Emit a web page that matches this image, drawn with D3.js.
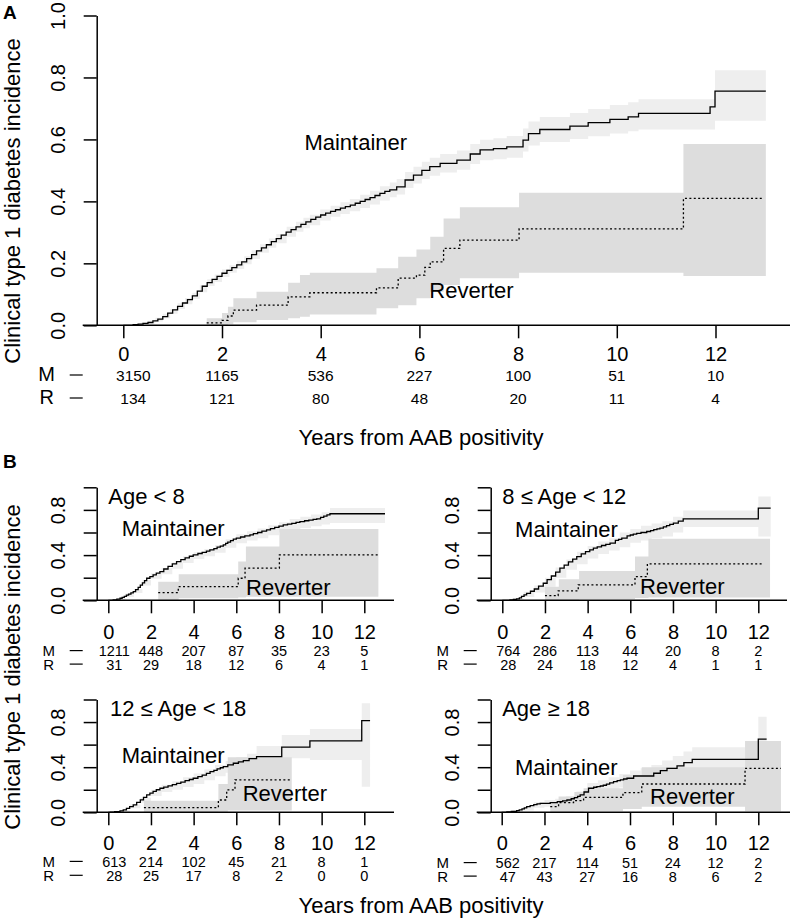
<!DOCTYPE html>
<html><head><meta charset="utf-8">
<script src="https://cdn.jsdelivr.net/npm/d3@7"></script>
<style>
body{margin:0;background:#fff;}
svg text{font-family:"Liberation Sans", Arial, Helvetica, sans-serif; fill:#000;}
</style></head><body>
<svg id="chart" width="793" height="919"></svg>
<script>
// ---------------- DATA ----------------
const xTicks = [0, 2, 4, 6, 8, 10, 12];
const yTicksA = [0, 0.2, 0.4, 0.6, 0.8, 1.0];
const yLabelsA = [0, 0.2, 0.4, 0.6, 0.8, 1.0];
const yTicksB = [0, 0.2, 0.4, 0.6, 0.8, 1.0];
const yLabelsB = [0, 0.4, 0.8];
const riskTimes = [0, 2, 4, 6, 8, 10, 12];
const groupLabels = ["M", "R"];

// Panel A (all ages)
const aMaintTime = [0,0.2,0.3,0.4,0.5,0.6,0.7,0.8,0.9,1.0,1.1,1.2,1.3,1.4,1.5,1.6,1.7,1.8,1.9,2.0,2.1,2.2,2.3,2.4,2.5,2.6,2.7,2.8,2.9,3.0,3.1,3.2,3.3,3.4,3.5,3.6,3.7,3.8,3.9,4.0,4.1,4.2,4.3,4.4,4.5,4.6,4.7,4.8,4.9,5.0,5.1,5.2,5.3,5.4,5.54,5.71,5.88,6.05,6.21,6.42,6.76,7.03,7.23,7.5,7.77,8.1,8.21,8.44,9.05,9.42,9.86,10.23,10.44,11.89,11.99,13.02];
const aMaintValue = [0,0.002,0.004,0.006,0.009,0.014,0.02,0.028,0.039,0.05,0.061,0.072,0.083,0.095,0.11,0.126,0.138,0.148,0.158,0.168,0.177,0.186,0.195,0.205,0.215,0.228,0.24,0.25,0.26,0.27,0.28,0.291,0.301,0.309,0.318,0.326,0.334,0.342,0.349,0.356,0.362,0.368,0.373,0.378,0.383,0.388,0.394,0.4,0.406,0.412,0.419,0.426,0.432,0.437,0.447,0.469,0.485,0.5,0.512,0.523,0.533,0.553,0.566,0.57,0.576,0.598,0.619,0.632,0.643,0.654,0.665,0.673,0.684,0.705,0.756,0.756];
const aMaintBandTime = [0,0.2,0.35,0.5,0.65,0.8,0.95,1.1,1.25,1.4,1.55,1.7,1.85,2.0,2.15,2.3,2.45,2.6,2.77,2.95,3.1,3.31,3.5,3.65,3.78,3.99,4.2,4.4,4.59,4.8,5.0,5.2,5.4,5.54,5.71,5.88,6.05,6.21,6.42,6.76,7.03,7.23,7.5,7.77,8.1,8.21,8.44,9.05,9.42,9.86,10.23,10.44,11.89,11.99,13.02];
const aMaintLower = [0,0,0.002,0.006,0.012,0.023,0.037,0.053,0.068,0.085,0.107,0.127,0.14,0.156,0.17,0.182,0.197,0.214,0.234,0.25,0.265,0.286,0.302,0.313,0.323,0.338,0.35,0.359,0.368,0.379,0.39,0.403,0.413,0.422,0.443,0.458,0.472,0.483,0.493,0.502,0.521,0.533,0.536,0.541,0.561,0.58,0.592,0.601,0.61,0.619,0.626,0.632,0.632,0.66,0.66];
const aMaintUpper = [0,0.004,0.008,0.015,0.024,0.037,0.053,0.071,0.088,0.105,0.129,0.149,0.164,0.18,0.194,0.208,0.223,0.242,0.262,0.28,0.295,0.318,0.334,0.347,0.357,0.374,0.386,0.397,0.408,0.421,0.434,0.449,0.461,0.472,0.495,0.512,0.528,0.541,0.553,0.564,0.585,0.599,0.604,0.611,0.635,0.658,0.672,0.685,0.698,0.711,0.72,0.73,0.73,0.823,0.823];
const aRevTime = [1.69,2.0,2.12,2.23,2.7,3.34,3.78,5.13,5.57,5.94,6.11,6.22,6.49,6.82,8.02,11.35,12.97];
const aRevValue = [0.008,0.016,0.03,0.049,0.065,0.092,0.105,0.121,0.152,0.162,0.187,0.205,0.248,0.275,0.311,0.41,0.41];
const aRevBandTime = [1.69,2.0,2.12,2.23,2.7,3.34,3.58,3.78,5.13,5.57,5.94,6.22,6.49,6.82,8.02,11.35,13.02];
const aRevLower = [0,0,0.003,0.01,0.017,0.023,0.028,0.035,0.055,0.065,0.087,0.108,0.13,0.152,0.17,0.159,0.159];
const aRevUpper = [0.023,0.04,0.06,0.087,0.108,0.137,0.162,0.17,0.184,0.221,0.245,0.286,0.345,0.381,0.428,0.585,0.585];
const aRiskM = [3150,1165,536,227,100,51,10];
const aRiskR = [134,121,80,48,20,11,4];

// Panel B1: Age < 8
const b1MaintTime = [0,0.23,0.4,0.55,0.65,0.75,0.85,0.95,1.06,1.17,1.28,1.4,1.5,1.6,1.7,1.8,1.95,2.1,2.25,2.42,2.6,2.8,3.0,3.2,3.4,3.6,3.8,3.98,4.2,4.4,4.6,4.76,4.95,5.1,5.25,5.39,5.5,5.6,5.73,5.86,6.0,6.2,6.4,6.64,6.8,7.0,7.2,7.42,7.6,7.8,8.0,8.2,8.4,8.6,8.8,8.98,9.2,9.4,9.6,9.77,9.95,10.1,10.25,10.39,12.97];
const b1MaintValue = [0,0.003,0.01,0.018,0.026,0.035,0.045,0.055,0.065,0.076,0.095,0.115,0.135,0.155,0.175,0.195,0.21,0.225,0.24,0.254,0.277,0.3,0.322,0.343,0.36,0.375,0.39,0.402,0.414,0.425,0.436,0.446,0.458,0.47,0.48,0.49,0.503,0.515,0.528,0.541,0.55,0.56,0.57,0.579,0.59,0.6,0.612,0.624,0.634,0.645,0.656,0.668,0.674,0.68,0.689,0.697,0.704,0.71,0.716,0.721,0.733,0.745,0.756,0.766,0.766];
const b1MaintBandTime = [0,0.4,0.8,1.2,1.6,2.0,2.5,3.0,3.5,4.0,4.5,5.0,5.5,6.0,6.5,7.0,7.5,8.0,8.5,9.0,9.5,10.0,10.39,12.97];
const b1MaintLower = [0,0.003,0.03,0.065,0.13,0.19,0.23,0.28,0.33,0.365,0.39,0.42,0.465,0.505,0.53,0.55,0.575,0.6,0.625,0.64,0.655,0.67,0.683,0.683];
const b1MaintUpper = [0,0.02,0.06,0.1,0.18,0.24,0.285,0.335,0.39,0.425,0.455,0.49,0.54,0.585,0.61,0.635,0.665,0.69,0.72,0.74,0.76,0.78,0.816,0.816];
const b1RevTime = [2.34,3.28,6.09,6.41,8.02,12.66];
const b1RevValue = [0.068,0.121,0.195,0.284,0.402,0.402];
const b1RevBandTime = [2.34,3.3,6.09,6.45,8.02,12.66];
const b1RevLower = [0.005,0.018,0.025,0.032,0.032,0.032];
const b1RevUpper = [0.165,0.231,0.343,0.476,0.63,0.63];
const b1RiskM = [1211,448,207,87,35,23,5];
const b1RiskR = [31,29,18,12,6,4,1];

// Panel B2: 8 <= Age < 12
const b2MaintTime = [0,0.36,0.52,0.67,0.8,0.9,1.02,1.14,1.32,1.5,1.7,1.92,2.1,2.3,2.5,2.7,2.9,3.1,3.3,3.49,3.7,3.9,4.1,4.27,4.45,4.65,4.85,5.05,5.3,5.45,5.6,5.85,6.0,6.14,6.3,6.5,6.77,6.95,7.1,7.25,7.39,7.55,7.7,7.85,8.02,8.25,8.48,12.0,12.58];
const b2MaintValue = [0,0.003,0.007,0.012,0.022,0.035,0.048,0.062,0.08,0.1,0.125,0.151,0.183,0.215,0.25,0.284,0.312,0.34,0.364,0.387,0.41,0.43,0.447,0.461,0.473,0.485,0.495,0.506,0.53,0.54,0.55,0.57,0.578,0.586,0.593,0.6,0.609,0.617,0.625,0.632,0.639,0.65,0.66,0.672,0.683,0.7,0.721,0.816,0.816];
const b2MaintBandTime = [0,0.5,1,1.5,2,2.5,3,3.5,4,4.5,5,5.5,6,6.5,7,7.5,8,8.48,12,12.58];
const b2MaintLower = [0,0.002,0.03,0.07,0.12,0.2,0.27,0.32,0.37,0.41,0.44,0.47,0.51,0.53,0.55,0.565,0.6,0.648,0.564,0.564];
const b2MaintUpper = [0,0.015,0.075,0.13,0.2,0.29,0.36,0.43,0.48,0.52,0.55,0.6,0.63,0.66,0.68,0.7,0.74,0.795,0.919,0.919];
const b2RevTime = [2.0,2.62,3.56,6.22,6.8,12.23];
const b2RevValue = [0.041,0.083,0.136,0.21,0.322,0.322];
const b2RevBandTime = [2.0,2.65,3.6,6.22,6.85,12.55];
const b2RevLower = [0,0.005,0.01,0.02,0.025,0.025];
const b2RevUpper = [0.121,0.186,0.26,0.387,0.544,0.544];
const b2RiskM = [764,286,113,44,20,8,2];
const b2RiskR = [28,24,18,12,4,1,1];

// Panel B3: 12 <= Age < 18
const b3MaintTime = [0,0.1,0.3,0.55,0.7,0.85,1.0,1.17,1.33,1.5,1.65,1.8,1.95,2.1,2.25,2.42,2.6,2.8,3.0,3.2,3.4,3.6,3.8,3.98,4.2,4.4,4.6,4.77,4.95,5.1,5.25,5.39,5.6,5.86,6.1,6.33,6.6,6.95,8.13,9.45,11.88,12.27];
const b3MaintValue = [0,0.002,0.006,0.012,0.022,0.035,0.05,0.065,0.088,0.11,0.132,0.154,0.17,0.185,0.2,0.213,0.224,0.235,0.246,0.257,0.268,0.28,0.291,0.302,0.316,0.33,0.345,0.36,0.372,0.385,0.395,0.405,0.42,0.435,0.447,0.458,0.475,0.493,0.577,0.633,0.813,0.813];
const b3MaintBandTime = [0,0.5,1,1.5,2,2.5,3,3.5,4,4.5,5,5.5,6,6.5,6.95,8.13,9.45,11.88,12.27];
const b3MaintLower = [0,0.003,0.035,0.085,0.145,0.18,0.2,0.225,0.25,0.285,0.32,0.35,0.375,0.395,0.39,0.479,0.464,0.227,0.227];
const b3MaintUpper = [0,0.02,0.07,0.13,0.2,0.245,0.275,0.31,0.345,0.38,0.42,0.455,0.49,0.52,0.588,0.686,0.739,0.967,0.967];
const b3RevTime = [1.67,5.16,5.55,5.94,8.6];
const b3RevValue = [0.041,0.109,0.198,0.287,0.287];
const b3RevBandTime = [1.67,5.16,5.6,8.6];
const b3RevLower = [0,0.005,0.015,0.015];
const b3RevUpper = [0.103,0.251,0.488,0.488];
const b3RiskM = [613,214,102,45,21,8,1];
const b3RiskR = [28,25,17,8,2,0,0];

// Panel B4: Age >= 18
const b4MaintTime = [0,0.24,0.45,0.7,0.82,0.95,1.06,1.17,1.33,1.5,1.65,1.8,2.27,2.6,2.85,3.05,3.25,3.4,3.55,3.67,3.85,4.06,4.3,4.45,4.61,4.75,4.9,5.05,5.23,5.4,5.55,5.7,5.86,6.17,7.11,7.42,7.73,8.2,8.52,8.91,12.0,12.39];
const b4MaintValue = [0,0.003,0.008,0.015,0.022,0.03,0.04,0.05,0.06,0.068,0.074,0.08,0.085,0.095,0.102,0.109,0.12,0.13,0.142,0.154,0.18,0.213,0.222,0.228,0.233,0.24,0.25,0.26,0.272,0.28,0.288,0.295,0.302,0.322,0.346,0.369,0.39,0.411,0.44,0.47,0.648,0.648];
const b4MaintBandTime = [0,0.5,1,1.5,2,2.5,3,3.5,4,4.5,5,5.5,6,6.5,7,7.5,8,8.5,8.91,12,12.39];
const b4MaintLower = [0,0.002,0.015,0.04,0.05,0.055,0.07,0.09,0.15,0.175,0.2,0.22,0.235,0.26,0.27,0.29,0.31,0.33,0.36,0.464,0.464];
const b4MaintUpper = [0,0.02,0.05,0.09,0.11,0.12,0.145,0.185,0.26,0.285,0.31,0.34,0.37,0.39,0.42,0.46,0.5,0.54,0.577,0.848,0.848];
const b4RevTime = [2.27,2.66,3.36,3.83,5.67,6.55,11.38,13.06];
const b4RevValue = [0.05,0.085,0.103,0.133,0.174,0.251,0.39,0.39];
const b4RevBandTime = [2.27,2.66,3.4,3.83,5.67,6.55,11.38,13.06];
const b4RevLower = [0,0.003,0.005,0.01,0.03,0.05,0.01,0.01];
const b4RevUpper = [0.094,0.139,0.18,0.213,0.331,0.399,0.633,0.633];
const b4RiskM = [562,217,114,51,24,12,2];
const b4RiskR = [47,43,27,16,8,6,2];

// ---------------- DRAWING ----------------
const svg = d3.select("#chart");
const FONT = '"Liberation Sans", Arial, Helvetica, sans-serif';
const LIGHT = "#eeeeee", DARK = "#dddddd";

function pts(t, v) { return t.map((d, i) => ({t: d, v: v[i]})); }
function band(t, lo, hi) { return t.map((d, i) => ({t: d, lo: lo[i], hi: hi[i]})); }

function drawPanel(c) {
  const g = svg.append("g");
  const x = d3.scaleLinear().domain([0, 12]).range([c.x0, c.x12]);
  const y = d3.scaleLinear().domain([0, 1]).range([c.y0, c.y1]);
  const area = d3.area().curve(d3.curveStepAfter)
    .x(d => x(d.t)).y0(d => y(d.lo)).y1(d => y(d.hi));
  const line = d3.line().curve(d3.curveStepAfter).x(d => x(d.t)).y(d => y(d.v));

  g.append("path").attr("d", area(band(c.mBandT, c.mLo, c.mHi))).attr("fill", LIGHT);
  g.append("path").attr("d", area(band(c.rBandT, c.rLo, c.rHi))).attr("fill", DARK);
  g.append("path").attr("d", line(pts(c.mT, c.mV))).attr("fill", "none")
    .attr("stroke", "#000").attr("stroke-width", 1.3);
  g.append("path").attr("d", line(pts(c.rT, c.rV))).attr("fill", "none")
    .attr("stroke", "#000").attr("stroke-width", 1.3).attr("stroke-dasharray", "2,2.4");

  // y axis
  const yAx = d3.axisLeft(y).tickValues(c.yTicks).tickSize(13).tickSizeOuter(0)
    .tickFormat(d => c.yLabels.includes(d) ? d3.format(".1f")(d) : "");
  const ya = g.append("g").attr("transform", `translate(${c.axisX},0)`).call(yAx);
  ya.attr("font-size", 20).attr("font-family", FONT);
  ya.selectAll("path,line").attr("stroke", "#000").attr("stroke-width", 1.5);
  ya.selectAll("text").attr("x", 0).attr("y", -31.5).attr("dy", null)
    .attr("text-anchor", "middle").attr("transform", "rotate(-90)");

  // x axis
  const xAx = d3.axisBottom(x).tickValues(xTicks).tickSize(13).tickSizeOuter(0).tickFormat(d3.format("d"));
  const xa = g.append("g").attr("transform", `translate(0,${c.y0})`).call(xAx);
  xa.attr("font-size", 20).attr("font-family", FONT);
  xa.select(".domain").remove();
  xa.selectAll("line").attr("stroke", "#000").attr("stroke-width", 1.5);
  xa.selectAll("text").attr("y", c.labOff).attr("dy", null);
  g.append("line").attr("x1", c.axisX - 14).attr("x2", c.xEnd)
    .attr("y1", c.y0).attr("y2", c.y0).attr("stroke", "#000").attr("stroke-width", 1.5);

  // risk table
  [c.riskM, c.riskR].forEach((row, ri) => {
    const by = c.y0 + c.rowOff[ri];
    g.append("text").attr("x", c.axisX + c.letterDx).attr("y", by)
      .attr("text-anchor", "middle").attr("font-size", c.letterSize).text(groupLabels[ri]);
    g.append("line").attr("x1", c.axisX - 27).attr("x2", c.axisX - 14)
      .attr("y1", by - 5.5).attr("y2", by - 5.5).attr("stroke", "#000").attr("stroke-width", 1.2);
    g.selectAll(null).data(row).join("text")
      .attr("x", (d, i) => x(riskTimes[i]) + (i === 0 ? c.firstDx : 0))
      .attr("y", by).attr("text-anchor", "middle").attr("font-size", c.numSize).text(d => d);
  });

  // labels
  c.labels.forEach(l => {
    g.append("text").attr("x", x(l.t)).attr("y", y(l.v)).attr("font-size", 22).text(l.s);
  });
}

// Panel A
drawPanel({
  x0: 123.3, x12: 715.5, y0: 325.3, y1: 15.5, axisX: 96.7, xEnd: 790, labOff: 35.7,
  yTicks: yTicksA, yLabels: yLabelsA,
  mT: aMaintTime, mV: aMaintValue, mBandT: aMaintBandTime, mLo: aMaintLower, mHi: aMaintUpper,
  rT: aRevTime, rV: aRevValue, rBandT: aRevBandTime, rLo: aRevLower, rHi: aRevUpper,
  riskM: aRiskM, riskR: aRiskR, rowOff: [55.2, 78.2], firstDx: 10, numSize: 15.5,
  letterDx: -50, letterSize: 20,
  labels: [{t: 3.67, v: 0.565, s: "Maintainer"}, {t: 6.2, v: 0.087, s: "Reverter"}]
});

const bCommon = {yTicks: yTicksB, yLabels: yLabelsB, firstDx: 6, numSize: 14.5,
  letterDx: -48, letterSize: 15, rowOff: [55.8, 69.3], labOff: 39};

drawPanel(Object.assign({}, bCommon, {
  x0: 108.3, x12: 364.3, y0: 600.3, y1: 487.3, axisX: 96.7, xEnd: 394,
  mT: b1MaintTime, mV: b1MaintValue, mBandT: b1MaintBandTime, mLo: b1MaintLower, mHi: b1MaintUpper,
  rT: b1RevTime, rV: b1RevValue, rBandT: b1RevBandTime, rLo: b1RevLower, rHi: b1RevUpper,
  riskM: b1RiskM, riskR: b1RiskR,
  labels: [{t: 0, v: 0.854, s: "Age < 8"}, {t: 0.63, v: 0.571, s: "Maintainer"}, {t: 6.46, v: 0.047, s: "Reverter"}]
}));
drawPanel(Object.assign({}, bCommon, {
  x0: 502.3, x12: 758.3, y0: 600.3, y1: 487.3, axisX: 490.7, xEnd: 787,
  mT: b2MaintTime, mV: b2MaintValue, mBandT: b2MaintBandTime, mLo: b2MaintLower, mHi: b2MaintUpper,
  rT: b2RevTime, rV: b2RevValue, rBandT: b2RevBandTime, rLo: b2RevLower, rHi: b2RevUpper,
  riskM: b2RiskM, riskR: b2RiskR,
  labels: [{t: 0, v: 0.854, s: "8 \u2264 Age < 12"}, {t: 0.6, v: 0.564, s: "Maintainer"}, {t: 6.46, v: 0.056, s: "Reverter"}]
}));
drawPanel(Object.assign({}, bCommon, {
  x0: 108.3, x12: 364.3, y0: 812.3, y1: 699.5, axisX: 96.7, xEnd: 394, labOff: 38,
  mT: b3MaintTime, mV: b3MaintValue, mBandT: b3MaintBandTime, mLo: b3MaintLower, mHi: b3MaintUpper,
  rT: b3RevTime, rV: b3RevValue, rBandT: b3RevBandTime, rLo: b3RevLower, rHi: b3RevUpper,
  riskM: b3RiskM, riskR: b3RiskR, rowOff: [54.6, 68.5],
  labels: [{t: 0.08, v: 0.854, s: "12 \u2264 Age < 18"}, {t: 0.63, v: 0.44, s: "Maintainer"}, {t: 6.3, v: 0.1, s: "Reverter"}]
}));
drawPanel(Object.assign({}, bCommon, {
  x0: 501.7, x12: 758.3, y0: 812.3, y1: 699.5, axisX: 490.7, xEnd: 790, labOff: 38,
  mT: b4MaintTime, mV: b4MaintValue, mBandT: b4MaintBandTime, mLo: b4MaintLower, mHi: b4MaintUpper,
  rT: b4RevTime, rV: b4RevValue, rBandT: b4RevBandTime, rLo: b4RevLower, rHi: b4RevUpper,
  riskM: b4RiskM, riskR: b4RiskR, rowOff: [55.8, 69.3],
  labels: [{t: 0.02, v: 0.854, s: "Age \u2265 18"}, {t: 0.62, v: 0.331, s: "Maintainer"}, {t: 6.94, v: 0.074, s: "Reverter"}]
}));

// Titles and panel letters
function yTitle(cy) {
  svg.append("text").attr("transform", `translate(19.5,${cy}) rotate(-90)`)
    .attr("text-anchor", "middle").attr("font-size", 22).text("Clinical type 1 diabetes incidence");
}
yTitle(201); yTitle(667);
function xTitle(by) {
  svg.append("text").attr("x", 421).attr("y", by).attr("text-anchor", "middle")
    .attr("font-size", 22).text("Years from AAB positivity");
}
xTitle(445); xTitle(913);
svg.append("text").attr("x", 3).attr("y", 18.5).attr("font-size", 19).attr("font-weight", "bold").text("A");
svg.append("text").attr("x", 3).attr("y", 468).attr("font-size", 19).attr("font-weight", "bold").text("B");
</script>
</body></html>
